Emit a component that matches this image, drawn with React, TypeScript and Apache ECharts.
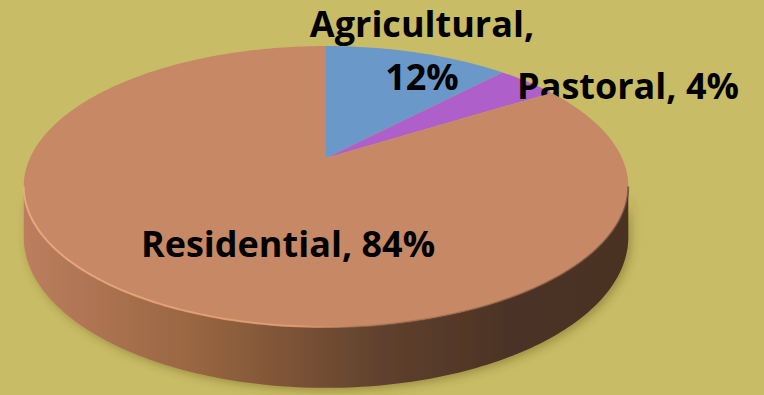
import React, { useEffect, useRef } from "react";
import * as echarts from "echarts";

// ---- data ----
const categories = ["Agricultural", "Pastoral", "Residential"];
const values = [12, 4, 84];
const sliceColors = ["#6A99C9", "#AE5FC9", "#C78866"];

// ---- layout (not data) ----
const W = 764;
const H = 395;
const CX = 326;
const CY = 158;
const RA = 296;
const RB = 134.7;
const K = 0.203;
const THICK = 48.5;
const FONT = "'Open Sans', 'Noto Sans', sans-serif";
const LINE_GAP = 53;
const labelLayout = [
  { x: 422, y: 23, wrap: true },
  { x: 628, y: 85, wrap: false },
  { x: 288, y: 243, wrap: false },
];

const total = values.reduce((s, v) => s + v, 0);

function proj(theta: number, down = false): number[] {
  const u = Math.sin(theta);
  const v = Math.cos(theta);
  const d = 1 + K * v;
  return [CX + (RA * u) / d, CY - (RB * v) / d + (down ? THICK / d : 0)];
}

function arcPts(a0: number, a1: number, down = false): number[][] {
  const n = Math.max(2, Math.ceil(Math.abs(a1 - a0) / (Math.PI / 180)));
  const pts: number[][] = [];
  for (let i = 0; i <= n; i++) {
    pts.push(proj(a0 + ((a1 - a0) * i) / n, down));
  }
  return pts;
}

const thetaR = Math.acos(-K);
const thetaL = 2 * Math.PI - thetaR;

function labelText(x: number, y: number, text: string) {
  return {
    type: "text",
    x,
    y,
    style: {
      text,
      fill: "#000000",
      fontFamily: FONT,
      fontWeight: "bold",
      fontSize: 36,
      align: "center",
      verticalAlign: "middle",
      textAlign: "center",
      textVerticalAlign: "middle",
    },
  };
}

export default function App() {
  const ref = useRef<HTMLDivElement>(null);
  useEffect(() => {
    if (!ref.current) return;
    const chart = echarts.init(ref.current, null, { renderer: "svg" });
    const renderItem = (params: any, api: any) => {
      const idx = params.dataIndex;
      let before = 0;
      for (let i = 0; i < idx; i++) before += values[i];
      const val = api.value(0);
      const a0 = (before / total) * Math.PI * 2;
      const a1 = ((before + val) / total) * Math.PI * 2;
      const children: any[] = [];
      // visible side
      const s = Math.max(a0, thetaR);
      const e = Math.min(a1, thetaL);
      if (e > s) {
        const top = arcPts(s, e);
        const bot = arcPts(e, s, true);
        children.push({
          type: "polygon",
          shape: { points: top.concat(bot) },
          style: {
            fill: {
              type: "linear",
              x: 24,
              y: 0,
              x2: 628,
              y2: 0,
              global: true,
              colorStops: [
                { offset: 0, color: "#BC7E5E" },
                { offset: 0.3, color: "#96643F" },
                { offset: 0.6, color: "#5F402D" },
                { offset: 0.8, color: "#4C3325" },
                { offset: 1, color: "#4A3224" },
              ],
            },
            shadowColor: "rgba(70,60,0,0.35)",
            shadowBlur: 10,
            shadowOffsetX: 3,
            shadowOffsetY: 3,
          },
        });
      }
      // top face
      const topPts = [[CX, CY]].concat(arcPts(a0, a1));
      children.push({
        type: "polygon",
        shape: { points: topPts },
        style: { fill: sliceColors[idx] },
      });
      if (e > s) {
        children.push({
          type: "polyline",
          shape: { points: arcPts(s, e) },
          style: {
            fill: null,
            lineWidth: 2,
            stroke: {
              type: "linear",
              x: 24,
              y: 0,
              x2: 628,
              y2: 0,
              global: true,
              colorStops: [
                { offset: 0, color: "rgba(238,170,130,0.9)" },
                { offset: 0.45, color: "rgba(232,160,120,0.8)" },
                { offset: 0.7, color: "rgba(120,80,55,0.4)" },
                { offset: 1, color: "rgba(80,55,40,0.6)" },
              ],
            },
          },
        });
      }
      // label
      const L = labelLayout[idx];
      const name = categories[idx];
      if (L.wrap) {
        children.push(labelText(L.x, L.y, `${name},`));
        children.push(labelText(L.x, L.y + LINE_GAP, `${val}%`));
      } else {
        children.push(labelText(L.x, L.y, `${name}, ${val}%`));
      }
      return { type: "group", children };
    };
    chart.setOption({
      animation: false,
      backgroundColor: "#C9BC66",
      series: [
        {
          type: "custom",
          coordinateSystem: "none",
          renderItem,
          data: values.map((v, i) => ({ name: categories[i], value: [v] })),
          silent: true,
        },
      ],
    });
    return () => chart.dispose();
  }, []);
  return (
    <div
      ref={ref}
      style={{ position: "fixed", left: 0, top: 0, width: W, height: H }}
    />
  );
}
